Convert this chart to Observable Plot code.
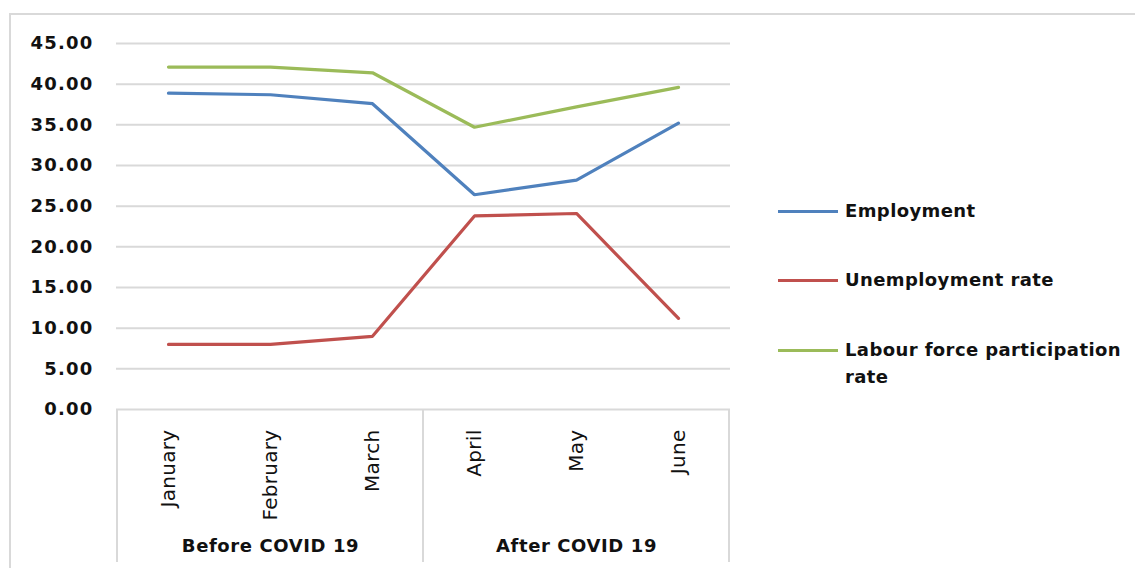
<!DOCTYPE html>
<html>
<head>
<meta charset="utf-8">
<script src="https://cdn.jsdelivr.net/npm/d3@7"></script>
<script src="https://cdn.jsdelivr.net/npm/@observablehq/plot@0.6"></script>
<style>
  html, body { margin: 0; padding: 0; background: #fff; overflow: hidden; }
  body { width: 1135px; height: 568px; position: relative; font-family: "DejaVu Sans", sans-serif; }
  #frame { position: absolute; left: 9px; top: 13px; width: 1140px; height: 560px; border-left: 2px solid #d9d9d9; border-top: 2px solid #d9d9d9; box-sizing: border-box; }
  #chart { position: absolute; left: 0; top: 0; }
  #legend { position: absolute; left: 778px; top: 0; }
  .item { position: absolute; left: 0; white-space: nowrap; }
  .swatch { position: absolute; left: 0; width: 60px; height: 3px; }
  .label { position: absolute; left: 67px; font: bold 18px "DejaVu Sans", sans-serif; color: #111; line-height: 27px; letter-spacing: 0.4px; }
  [aria-label="y-axis tick label"] text { letter-spacing: 1.2px; }
  [aria-label="x-axis tick label"] text { letter-spacing: 0.3px; }
  .period text { letter-spacing: 0.6px; }
</style>
</head>
<body>
<div id="frame"></div>
<div id="chart"></div>
<div id="legend"></div>
<script>
const months = ["January", "February", "March", "April", "May", "June"];
const employment = [38.9, 38.7, 37.6, 26.4, 28.2, 35.2];
const unemploymentRate = [8.0, 8.0, 9.0, 23.8, 24.1, 11.2];
const participationRate = [42.1, 42.1, 41.4, 34.7, 37.2, 39.6];
const seriesNames = ["Employment", "Unemployment rate", "Labour force participation rate"];
const seriesColors = ["#4F81BD", "#C0504D", "#9BBB59"];
const periods = ["Before COVID 19", "After COVID 19"];
const periodMonths = [["January", "February", "March"], ["April", "May", "June"]];
const yTicks = [0, 5, 10, 15, 20, 25, 30, 35, 40, 45];

const seriesValues = [employment, unemploymentRate, participationRate];
const rows = [];
seriesNames.forEach((s, i) => months.forEach((m, j) => rows.push({series: s, month: m, value: seriesValues[i][j]})));
const periodRows = periods.map((p, i) => ({label: p, months: periodMonths[i], mid: periodMonths[i][Math.floor(periodMonths[i].length / 2)]}));

function dividers(index, scales, values, dimensions) {
  const sx = scales.x, sy = scales.y;
  const step = sx(months[1]) - sx(months[0]);
  const g = d3.create("svg:g");
  const xs = [sx(periodMonths[0][0]) - step / 2];
  periodMonths.forEach(ms => xs.push(sx(ms[ms.length - 1]) + step / 2));
  xs.forEach(x => {
    g.append("line").attr("x1", x).attr("x2", x)
      .attr("y1", sy(0)).attr("y2", dimensions.height - 6)
      .attr("stroke", "#d9d9d9").attr("stroke-width", 2);
  });
  return g.node();
}

const chart = Plot.plot({
  width: 1135,
  height: 568,
  marginLeft: 116,
  marginRight: 405,
  marginTop: 43,
  marginBottom: 159,
  style: {fontFamily: "DejaVu Sans, sans-serif", background: "transparent", overflow: "visible"},
  x: {type: "point", domain: months, padding: 0.5},
  y: {domain: [0, 45]},
  color: {domain: seriesNames, range: seriesColors},
  marks: [
    Plot.gridY(yTicks, {stroke: "#d9d9d9", strokeOpacity: 1, strokeWidth: 2}),
    Plot.axisY(yTicks, {tickSize: 0, tickPadding: 23, tickFormat: d => d.toFixed(2), fontSize: 18, fontWeight: "bold", fill: "#111", label: null}),
    Plot.axisX({tickSize: 0, tickPadding: 20, tickRotate: -90, fontSize: 20, fill: "#111", label: null}),
    dividers,
    Plot.text(periodRows, {x: "mid", y: () => 0, text: "label", dy: 137, fontSize: 18, fontWeight: "bold", fill: "#111", textAnchor: "middle", className: "period"}),
    Plot.lineY(rows, {x: "month", y: "value", stroke: "series", strokeWidth: 3.2, strokeLinejoin: "miter"})
  ]
});
document.getElementById("chart").append(chart);

const legend = d3.select("#legend");
const legendY = [211, 280, 350];
seriesNames.forEach((s, i) => {
  const item = legend.append("div").attr("class", "item").style("top", legendY[i] + "px");
  item.append("div").attr("class", "swatch").style("background", seriesColors[i]).style("top", "-1.5px");
  const words = s === "Labour force participation rate" ? "Labour force participation<br>rate" : s;
  item.append("div").attr("class", "label").style("top", "-14px").html(words);
});
</script>
</body>
</html>
